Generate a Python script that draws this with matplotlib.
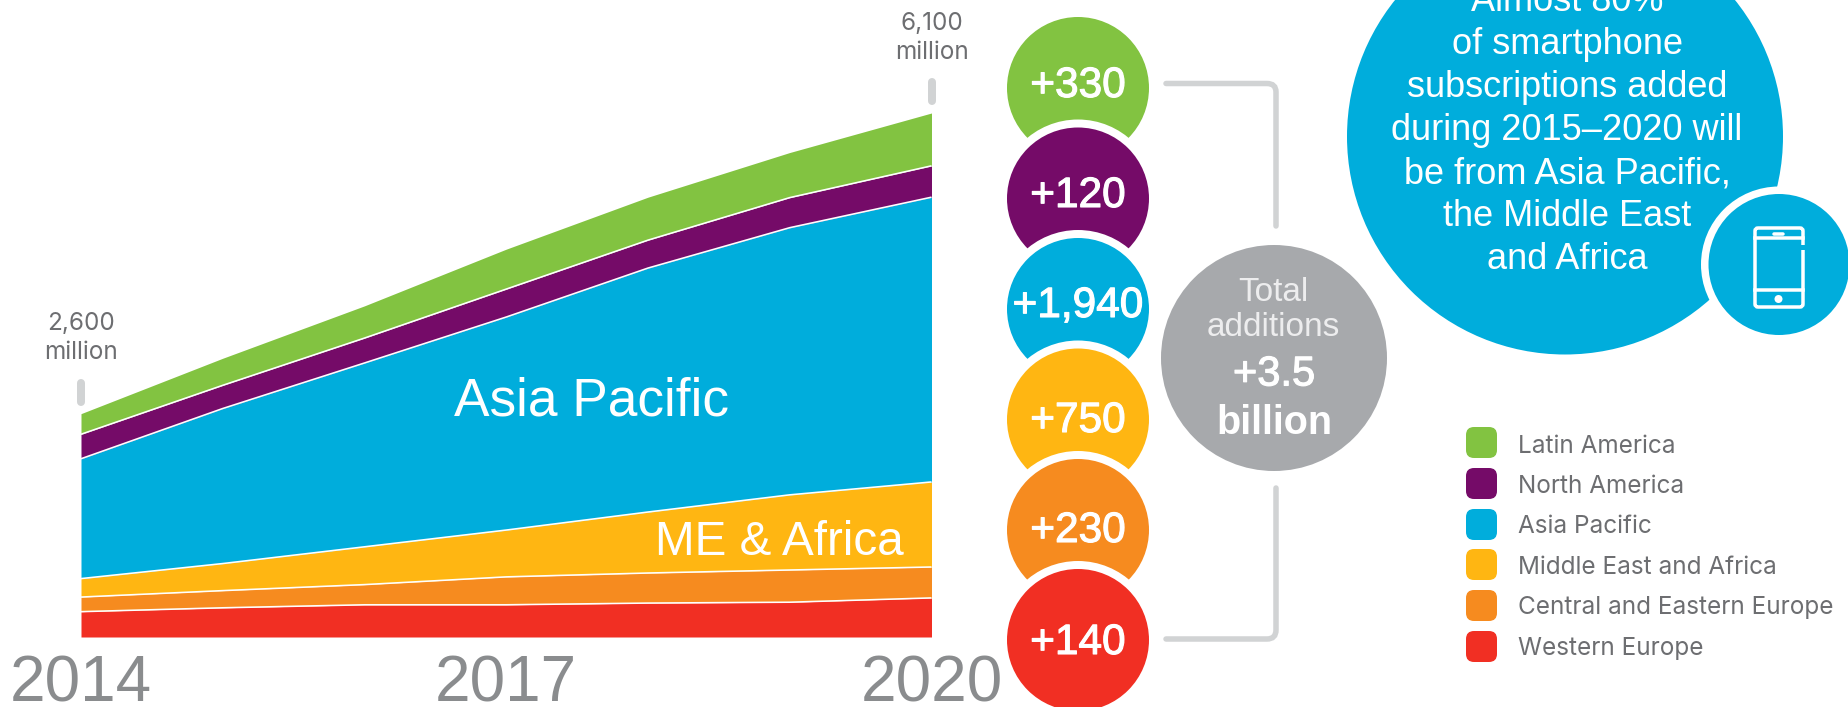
import matplotlib
matplotlib.use("Agg")
import matplotlib.pyplot as plt
import matplotlib.patheffects as pe
import numpy as np
from matplotlib.patches import Circle, FancyBboxPatch, PathPatch, Rectangle
from matplotlib.path import Path

plt.rcParams["font.family"] = ["Liberation Sans", "DejaVu Sans"]

W, H = 1849, 707
PX = 72 / 100  # points per pixel at dpi 100

# smartphone subscriptions, millions
years = [2014, 2015, 2016, 2017, 2018, 2019, 2020]
western_europe = [295, 340, 375, 375, 395, 405, 455]
central_europe = [170, 200, 235, 325, 350, 375, 360]
middle_east = [215, 315, 440, 545, 710, 875, 990]
asia_pacific = [1395, 1805, 2140, 2480, 2840, 3110, 3315]
north_america = [285, 270, 290, 325, 325, 350, 365]
latin_america = [240, 315, 375, 465, 500, 525, 615]

year_ticks = [2014, 2017, 2020]
regions = ["Latin America", "North America", "Asia Pacific",
           "Middle East and Africa", "Central and Eastern Europe", "Western Europe"]
additions = ["+330", "+120", "+1,940", "+750", "+230", "+140"]
callout = ["Almost 80%", "of smartphone", "subscriptions added",
           "during 2015\u20132020 will", "be from Asia Pacific,",
           "the Middle East", "and Africa"]

GREEN = "#82C341"
PURPLE = "#750B68"
BLUE = "#00ADDC"
YELLOW = "#FFB612"
ORANGE = "#F68B1F"
RED = "#F12F23"
region_colors = [GREEN, PURPLE, BLUE, YELLOW, ORANGE, RED]
LIGHT = "#D1D3D4"
BUBBLE_GREY = "#A7A9AC"
TEXT_GREY = "#6D6E71"
YEAR_GREY = "#8A8C8E"

fig = plt.figure(figsize=(W / 100, H / 100), dpi=100, facecolor="white")

# stacked area, axes box set in pixels
left, right, top, bottom = 81, 931.5, 113, 637
ax = fig.add_axes([left / W, 1 - bottom / H, (right - left) / W, (bottom - top) / H])
ax.patch.set_alpha(0)

layers = np.array([western_europe, central_europe, middle_east,
                   asia_pacific, north_america, latin_america])
stack = layers.cumsum(axis=0)
lower = np.zeros(len(years))
for upper, color in zip(stack, region_colors[::-1]):
    ax.fill_between(years, lower, upper, color=color, lw=0)
    lower = upper
for upper in stack[:-1]:
    ax.plot(years, upper, color="white", lw=1.6 * PX, solid_capstyle="butt")

totals = stack[-1]
ax.set_xlim(2014, 2020)
ax.set_ylim(0, totals[-1])
ax.set_yticks([])
ax.set_xticks(year_ticks)
ax.tick_params(axis="x", length=0, pad=12.5, labelsize=46, labelcolor=YEAR_GREY)
for spine in ax.spines.values():
    spine.set_visible(False)

ax.text(2017.6, 2575, "Asia Pacific", color="white", fontsize=38.3,
        ha="center", va="baseline")
ax.text(2018.93, 955, "ME & Africa", color="white", fontsize=34.3,
        ha="center", va="baseline")

# everything else is placed in pixel coordinates
over = fig.add_axes([0, 0, 1, 1])
over.set_xlim(0, W)
over.set_ylim(H, 0)
over.axis("off")
over.patch.set_alpha(0)

# total markers above the first and last year
for x, y0, y1, y_num, y_unit, total in [(81, 383, 402, 330, 359, totals[0]),
                                        (932, 82, 101, 30, 59, totals[-1])]:
    over.plot([x, x], [y0, y1], color=LIGHT, lw=8 * PX, solid_capstyle="round")
    over.text(x, y_num, f"{total:,}", color=TEXT_GREY, fontsize=17.5, family="Inter",
              ha="center", va="baseline")
    over.text(x, y_unit, "million", color=TEXT_GREY, fontsize=17.5, family="Inter",
              ha="center", va="baseline")

# column of regional additions, each bubble cuts into the one above
bubble_x = 1078
bubble_y = [88, 198.5, 309, 419.5, 530, 640]
label_y = [97, 207, 317, 432, 542, 654]
glow = [pe.withStroke(linewidth=0.8, foreground="white")]
for i, (text, color) in enumerate(zip(additions, region_colors)):
    if i > 0:
        over.add_patch(Circle((bubble_x, bubble_y[i]), 79, fc="white", ec="none"))
    over.add_patch(Circle((bubble_x, bubble_y[i]), 71, fc=color, ec="none"))
for i, text in enumerate(additions):
    t = over.text(bubble_x, label_y[i], text, color="white", fontsize=30.5,
                  ha="center", va="baseline")
    t.set_path_effects(glow)

# bracket joining the column to the total
bracket_top = Path([(1166, 83.5), (1267, 83.5), (1276, 83.5), (1276, 92), (1276, 226)],
                   [Path.MOVETO, Path.LINETO, Path.CURVE3, Path.CURVE3, Path.LINETO])
bracket_bottom = Path([(1276, 488), (1276, 630), (1276, 639), (1267, 639), (1166, 639)],
                      [Path.MOVETO, Path.LINETO, Path.CURVE3, Path.CURVE3, Path.LINETO])
for path in (bracket_top, bracket_bottom):
    over.add_patch(PathPatch(path, fc="none", ec=LIGHT, lw=5.5 * PX, capstyle="round"))

over.add_patch(Circle((1274, 358), 113, fc=BUBBLE_GREY, ec="none"))
over.text(1273, 301, "Total", color="#EDEDEE", fontsize=24, ha="center", va="baseline")
over.text(1273, 336, "additions", color="#EDEDEE", fontsize=24, ha="center", va="baseline")
t = over.text(1274, 385.5, "+3.5", color="white", fontsize=30, ha="center", va="baseline")
t.set_path_effects(glow)
over.text(1274, 434, "billion", color="white", fontsize=28.5, fontweight="bold",
          ha="center", va="baseline")

# callout circle, runs off the top edge
over.add_patch(Circle((1565, 136.5), 218, fc=BLUE, ec="none"))
for i, line in enumerate(callout):
    over.text(1567, 11 + i * 43, line, color="white", fontsize=26,
              ha="center", va="baseline")

# phone badge
over.add_patch(Circle((1779, 264.5), 78, fc="white", ec="none"))
over.add_patch(Circle((1779, 264.5), 70.5, fc=BLUE, ec="none"))
phone_lw = 3.5 * PX
over.add_patch(FancyBboxPatch((1755, 228), 48, 79, boxstyle="round,pad=0,rounding_size=3",
                              fc="none", ec="white", lw=phone_lw))
over.add_patch(Rectangle((1799, 245), 8, 5, fc=BLUE, ec="none", zorder=3))
over.plot([1755, 1803], [238, 238], color="white", lw=phone_lw)
over.plot([1755, 1803], [290, 290], color="white", lw=phone_lw)
over.plot([1774, 1783], [234, 234], color="white", lw=phone_lw, solid_capstyle="round")
over.add_patch(Circle((1778.5, 299), 4, fc="white", ec="none"))

# legend
swatch_y = [427, 468, 509, 549, 590, 631]
legend_baseline = [453, 493, 533, 574, 614, 655]
for name, color, sy, by in zip(regions, region_colors, swatch_y, legend_baseline):
    over.add_patch(FancyBboxPatch((1466, sy), 31, 31, boxstyle="round,pad=0,rounding_size=8",
                                  fc=color, ec="none"))
    over.text(1518, by, name, color=TEXT_GREY, fontsize=17.5, family="Inter",
              ha="left", va="baseline")

fig.savefig("out.png", dpi=100)
